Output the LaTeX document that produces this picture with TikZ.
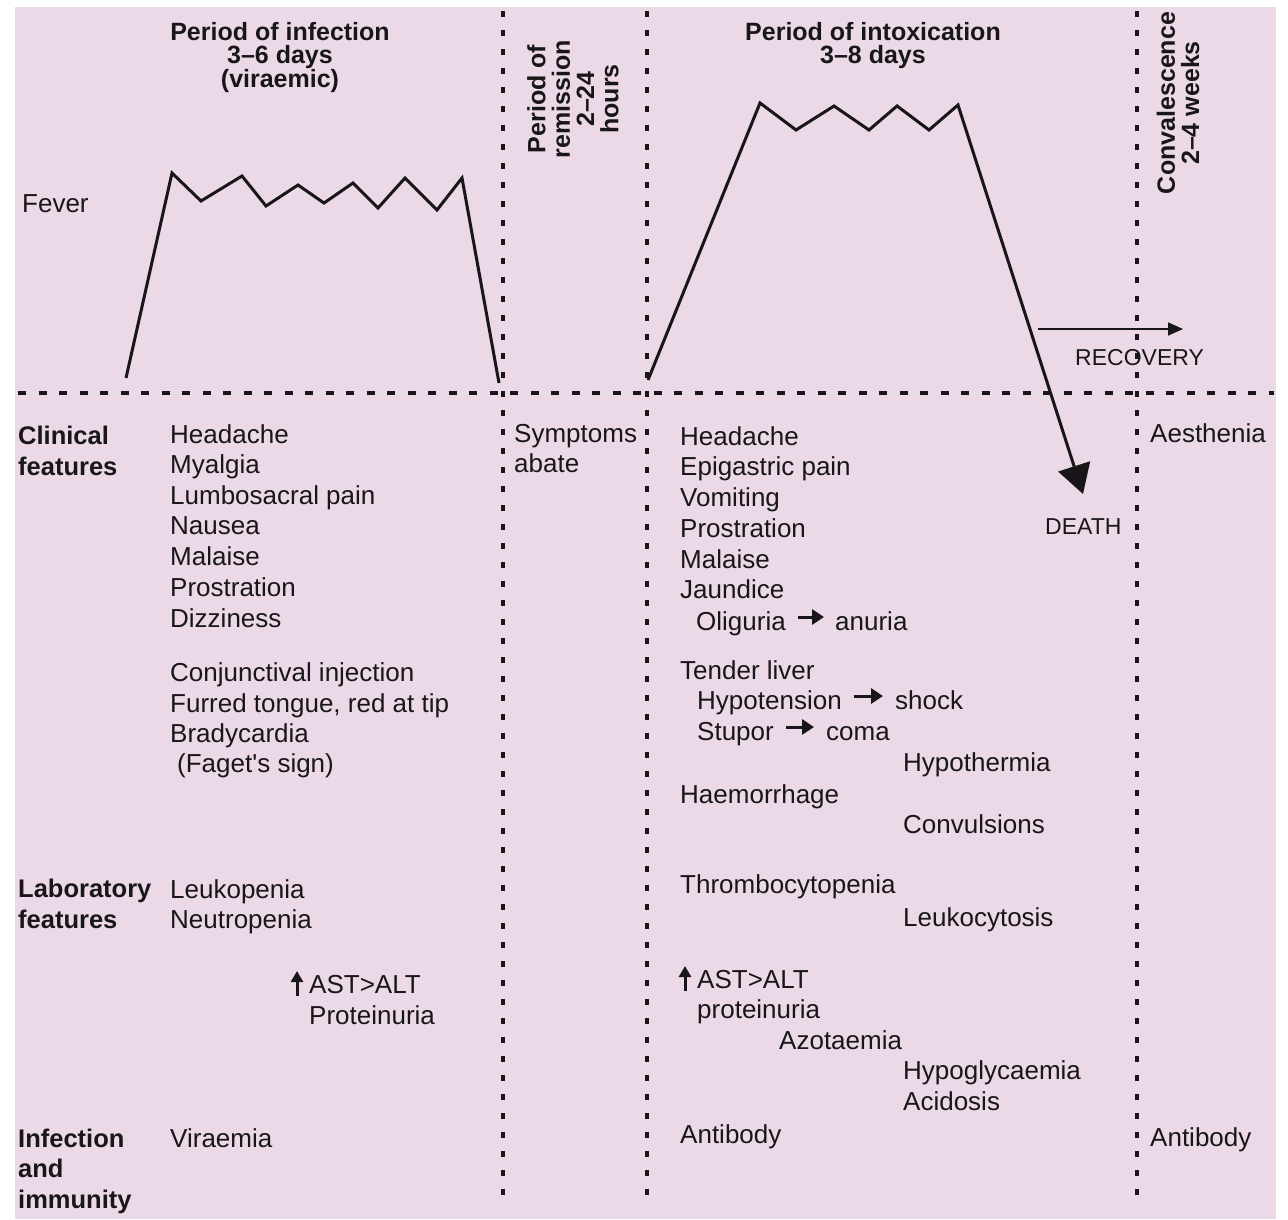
\documentclass[tikz,border=0pt]{standalone}
\usepackage{fontspec}
\setmainfont{Liberation Sans}
\usetikzlibrary{arrows.meta}
\definecolor{bgpink}{RGB}{235,217,231}
\definecolor{ink}{RGB}{24,22,24}
\tikzset{
  txt/.style={anchor=base west, inner sep=0pt, text=ink, font=\fontsize{26}{31}\selectfont},
  lbl/.style={anchor=base west, inner sep=0pt, text=ink, font=\fontsize{25.5}{31}\selectfont\bfseries},
  capstxt/.style={anchor=base west, inner sep=0pt, text=ink, font=\fontsize{23}{28}\selectfont},
  headtxt/.style={anchor=base, inner sep=0pt, text=ink, font=\fontsize{25}{24}\selectfont\bfseries},
  vhead/.style={anchor=center, inner sep=0pt, text=ink, rotate=90, align=center, font=\fontsize{25}{24.3}\selectfont\bfseries},
  curveline/.style={draw=ink, line width=3pt, line join=miter},
  vdots/.style={draw=ink, line width=3.5pt, dash pattern=on 5.5pt off 13.5pt},
  hdash/.style={draw=ink, line width=3.2pt, dash pattern=on 8pt off 12.5pt},
  inarr/.style={draw=ink, line width=3pt, -{Triangle[length=12pt,width=15pt]}},
  uparr/.style={draw=ink, line width=3pt, -{Triangle[length=11pt,width=12pt]}},
  recarr/.style={draw=ink, line width=1.6pt, -{Triangle[length=15pt,width=13pt]}},
}
\begin{document}
\begin{tikzpicture}[x=1pt,y=-1pt]
\useasboundingbox (0,0) rectangle (1288,1219);
\fill[bgpink] (15,7) rectangle (1276,1219);

% grid lines
\coordinate (v1t) at (503,11); \coordinate (v1b) at (503,1206);
\coordinate (v2t) at (647,11); \coordinate (v2b) at (647,1206);
\coordinate (v3t) at (1137,11); \coordinate (v3b) at (1137,1206);
\coordinate (hl) at (18,393); \coordinate (hr) at (1274,393);
\draw[vdots] (v1t) -- (v1b);
\draw[vdots] (v2t) -- (v2b);
\draw[vdots] (v3t) -- (v3b);
\draw[hdash] (hl) -- (hr);

% headings
\node[headtxt] (h1a) at (280,40) {Period of infection};
\node[headtxt] (h1b) at (280,63) {3–6 days};
\node[headtxt] (h1c) at (280,87) {(viraemic)};
\node[headtxt] (h2a) at (873,40) {Period of intoxication};
\node[headtxt] (h2b) at (873,63) {3–8 days};
\node[vhead] (rem) at (573,99) {Period of\\remission\\2–24\\hours};
\node[vhead] (conv) at (1178,103) {Convalescence\\2–4 weeks};

\node[txt] (fever) at (22,212) {Fever};

% fever curves
\draw[curveline] (126,378) -- (172,173) -- (201,201) -- (242,176) -- (266,206)
  -- (298,185) -- (324,203) -- (353,183) -- (378,208) -- (405,178) -- (437,210)
  -- (462,178) -- (499,383);
\coordinate (deathtip) at (1083,494);
\draw[curveline, -{Triangle[length=29pt,width=33pt]}] (648,380) -- (760,103) -- (796,130)
  -- (834,106) -- (869,130) -- (897,106) -- (929,130) -- (958,105) -- (deathtip);
\coordinate (recstart) at (1038,329);
\coordinate (recend) at (1183,329);
\draw[recarr] (recstart) -- (recend);
\node[capstxt] (recovery) at (1075,365) {RECOVERY};
\node[capstxt] (death) at (1045,534) {DEATH};

% row labels
\node[lbl] (cl1) at (18,444) {Clinical};
\node[lbl] (cl2) at (18,475) {features};
\node[lbl] (lab1) at (18,897) {Laboratory};
\node[lbl] (lab2) at (18,928) {features};
\node[lbl] (inf1) at (18,1147) {Infection};
\node[lbl] (inf2) at (18,1177) {and};
\node[lbl] (inf3) at (18,1208) {immunity};

% period of infection column
\node[txt] (a1) at (170,443) {Headache};
\node[txt] (a2) at (170,473) {Myalgia};
\node[txt] (a3) at (170,504) {Lumbosacral pain};
\node[txt] (a4) at (170,534) {Nausea};
\node[txt] (a5) at (170,565) {Malaise};
\node[txt] (a6) at (170,596) {Prostration};
\node[txt] (a7) at (170,627) {Dizziness};
\node[txt] (a8) at (170,681) {Conjunctival injection};
\node[txt] (a9) at (170,712) {Furred tongue, red at tip};
\node[txt] (a10) at (170,742) {Bradycardia};
\node[txt] (a11) at (177,772) {(Faget\textquotesingle s sign)};
\node[txt] (a12) at (170,898) {Leukopenia};
\node[txt] (a13) at (170,928) {Neutropenia};
\node[txt] (astL) at (309,993) {AST>ALT};
\draw[uparr] ([xshift=-12pt,yshift=-3pt]astL.base west) -- ++(0,-25);
\node[txt] (a14) at (309,1024) {Proteinuria};
\node[txt] (a15) at (170,1147) {Viraemia};

% remission column
\node[txt] (s1) at (514,442) {Symptoms};
\node[txt] (s2) at (514,472) {abate};

% intoxication column
\node[txt] (b1) at (680,445) {Headache};
\node[txt] (b2) at (680,475) {Epigastric pain};
\node[txt] (b3) at (680,506) {Vomiting};
\node[txt] (b4) at (680,537) {Prostration};
\node[txt] (b5) at (680,568) {Malaise};
\node[txt] (b6) at (680,598) {Jaundice};
\node[txt] (olig) at (696,630) {Oliguria};
\node[txt] (anu) at (835,630) {anuria};
\draw[inarr] ([xshift=12pt,yshift=13pt]olig.base east) -- ([xshift=-11pt,yshift=13pt]anu.base west);
\node[txt] (b7) at (680,679) {Tender liver};
\node[txt] (hypo) at (697,709) {Hypotension};
\node[txt] (shock) at (895,709) {shock};
\draw[inarr] ([xshift=12pt,yshift=13pt]hypo.base east) -- ([xshift=-12pt,yshift=13pt]shock.base west);
\node[txt] (stup) at (697,740) {Stupor};
\node[txt] (coma) at (826,740) {coma};
\draw[inarr] ([xshift=12pt,yshift=13pt]stup.base east) -- ([xshift=-12pt,yshift=13pt]coma.base west);
\node[txt] (b8) at (903,771) {Hypothermia};
\node[txt] (b9) at (680,803) {Haemorrhage};
\node[txt] (b10) at (903,833) {Convulsions};
\node[txt] (b11) at (680,893) {Thrombocytopenia};
\node[txt] (b12) at (903,926) {Leukocytosis};
\node[txt] (astR) at (697,988) {AST>ALT};
\draw[uparr] ([xshift=-12pt,yshift=-3pt]astR.base west) -- ++(0,-25);
\node[txt] (b13) at (697,1018) {proteinuria};
\node[txt] (b14) at (779,1049) {Azotaemia};
\node[txt] (b15) at (903,1079) {Hypoglycaemia};
\node[txt] (b16) at (903,1110) {Acidosis};
\node[txt] (b17) at (680,1143) {Antibody};

% convalescence column
\node[txt] (c1) at (1150,442) {Aesthenia};
\node[txt] (c2) at (1150,1146) {Antibody};
\end{tikzpicture}
\end{document}
